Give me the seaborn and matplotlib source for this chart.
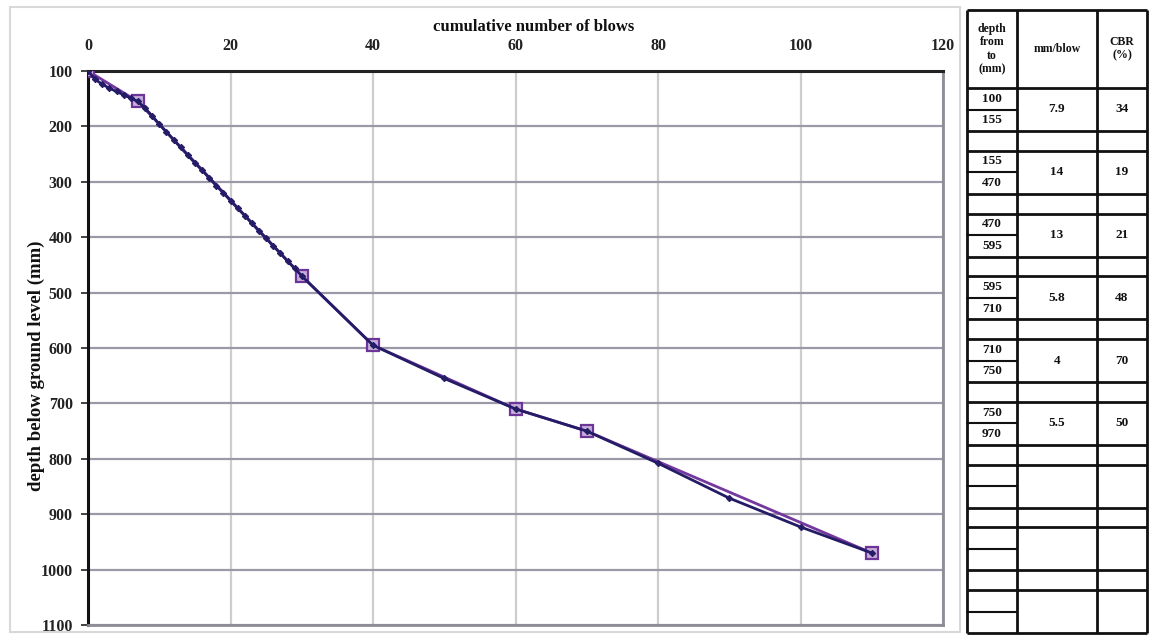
import matplotlib
matplotlib.use("Agg")
import matplotlib.pyplot as plt
import seaborn as sns
import pandas as pd
from matplotlib.patches import Rectangle

# ---------------- data ----------------
blows_sq = [0, 7, 30, 40, 60, 70, 110]
depth_sq = [100, 155, 470, 595, 710, 750, 970]

blows_dark = [0, 1, 2, 3, 4, 5, 6, 7, 8, 9, 10, 11, 12, 13, 14, 15, 16, 17, 18, 19,
              20, 21, 22, 23, 24, 25, 26, 27, 28, 29, 30, 40, 50, 60, 70, 80, 90, 100, 110]
depth_dark = [100, 115, 124, 131, 137, 143, 149, 155, 167, 181, 196, 210, 224, 238, 252, 266,
              279, 293, 307, 320, 334, 348, 361, 375, 389, 402, 416, 429, 443, 456, 470,
              595, 655, 710, 750, 808, 871, 923, 970]

x_ticks = [0, 20, 40, 60, 80, 100, 120]
y_ticks = [100, 200, 300, 400, 500, 600, 700, 800, 900, 1000, 1100]

tbl_from = ["100", "155", "470", "595", "710", "750"]
tbl_to = ["155", "470", "595", "710", "750", "970"]
tbl_mmblow = ["7.9", "14", "13", "5.8", "4", "5.5"]
tbl_cbr = ["34", "19", "21", "48", "70", "50"]

# ---------------- style ----------------
sns.set_style("white")
plt.rcParams["font.family"] = ["Liberation Serif", "DejaVu Serif"]

W, H = 1150, 635
fig = plt.figure(figsize=(W / 100, H / 100), dpi=100)

# chart-area border
fig.patches.append(Rectangle((10 / W, 3 / H), 950 / W, 625 / H, transform=fig.transFigure,
                             fill=False, edgecolor="#d8d8d8", lw=1.5))

L, R, T, B = 88, 943, 71, 625
ax = fig.add_axes([L / W, 1 - B / H, (R - L) / W, (B - T) / H])

df_sq = pd.DataFrame({"blows": blows_sq, "depth": depth_sq})
df_dk = pd.DataFrame({"blows": blows_dark, "depth": depth_dark})

sns.lineplot(data=df_sq, x="blows", y="depth", ax=ax, sort=False, color="#74389f", lw=2.0,
             marker="s", markersize=8, markerfacecolor="#c7afdc", markeredgecolor="#6d3598",
             markeredgewidth=1.6, zorder=3)
sns.lineplot(data=df_dk, x="blows", y="depth", ax=ax, sort=False, color="#241c66", lw=2.0,
             marker="D", markersize=3.2, markerfacecolor="#241c66", markeredgecolor="#241c66",
             zorder=4)

ax.set_xlim(0, 120)
ax.set_ylim(1100, 100)
ax.xaxis.tick_top()
ax.xaxis.set_label_position("top")
ax.set_xticks(x_ticks)
ax.set_yticks(y_ticks)
ax.tick_params(axis="x", length=0, pad=12, labelsize=11.5, colors="#222222")
ax.tick_params(axis="y", length=5, width=1.2, pad=6, labelsize=11.5, colors="#222222", left=True)
for lab in ax.get_xticklabels() + ax.get_yticklabels():
    lab.set_fontweight("bold")

ax.grid(True, axis="y", color="#9b99a8", lw=1.6)
ax.grid(True, axis="x", color="#cdcdcd", lw=1.6)
ax.set_axisbelow(True)

ax.spines["left"].set_color("#111111"); ax.spines["left"].set_linewidth(2.2)
ax.spines["top"].set_color("#222222"); ax.spines["top"].set_linewidth(2.2)
ax.spines["right"].set_color("#8c8c96"); ax.spines["right"].set_linewidth(2.0)
ax.spines["bottom"].set_color("#8c8c96"); ax.spines["bottom"].set_linewidth(2.0)

ax.set_xlabel("")
ax.set_ylabel("")
fig.text(534 / W, 1 - 27 / H, "cumulative number of blows", ha="center", va="center",
         fontsize=12, fontweight="bold", color="#111111")
fig.text(36 / W, 1 - 366 / H, "depth below ground level (mm)", ha="center", va="center",
         rotation=90, fontsize=13.5, fontweight="bold", color="#111111")

# ---------------- table ----------------
tax = fig.add_axes([0, 0, 1, 1])
tax.set_xlim(0, W)
tax.set_ylim(H, 0)
tax.axis("off")

x0, x1, x2, x3 = 967, 1017, 1097, 1147
top, hdr = 10, 88
bottom = 633
pair = 43.0
grp = 62.75
lw_t = 2.0
kw = dict(color="#111111", lw=lw_t, solid_capstyle="butt")

for xv in (x0, x1, x2, x3):
    tax.plot([xv, xv], [top, bottom], **kw)
tax.plot([x0, x3], [top, top], **kw)
tax.plot([x0, x3], [hdr, hdr], **kw)
for g in range(9):
    y0 = hdr + g * grp
    tax.plot([x0, x1], [y0 + pair / 2, y0 + pair / 2], color="#111111", lw=1.5)
    tax.plot([x0, x3], [y0 + pair, y0 + pair], **kw)
    if g < 8:
        tax.plot([x0, x3], [y0 + grp, y0 + grp], **kw)

hkw = dict(ha="center", va="center", fontsize=8.5, fontweight="bold", color="#111111",
           linespacing=1.15)
tax.text((x0 + x1) / 2, (top + hdr) / 2, "depth\nfrom\nto\n(mm)", **hkw)
tax.text((x1 + x2) / 2, (top + hdr) / 2, "mm/blow", **hkw)
tax.text((x2 + x3) / 2, (top + hdr) / 2, "CBR\n(%)", **hkw)

dkw = dict(ha="center", va="center", fontsize=9.5, fontweight="bold", color="#111111")
for i in range(len(tbl_from)):
    y0 = hdr + i * grp
    tax.text((x0 + x1) / 2, y0 + pair / 4, tbl_from[i], **dkw)
    tax.text((x0 + x1) / 2, y0 + 3 * pair / 4, tbl_to[i], **dkw)
    tax.text((x1 + x2) / 2, y0 + pair / 2, tbl_mmblow[i], **dkw)
    tax.text((x2 + x3) / 2, y0 + pair / 2, tbl_cbr[i], **dkw)

fig.savefig("out.png", dpi=100)
